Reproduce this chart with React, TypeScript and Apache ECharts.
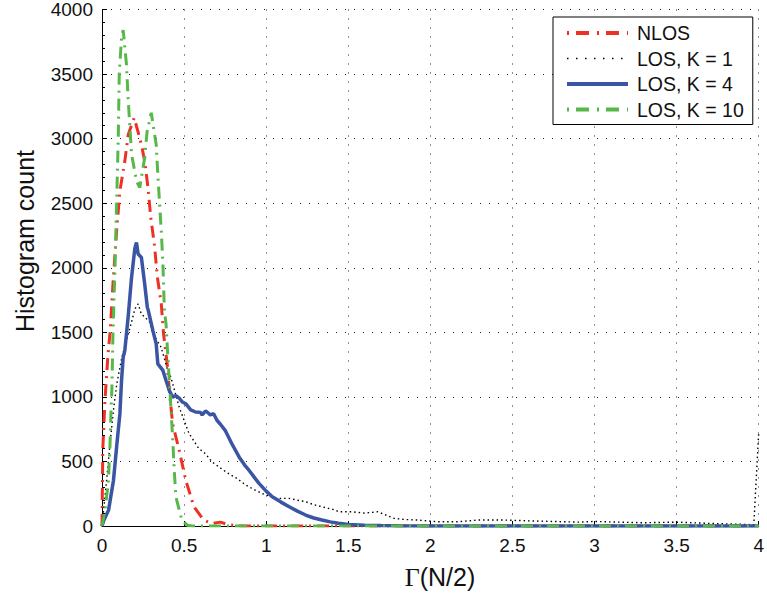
import React, { useEffect, useRef } from 'react';
import * as echarts from 'echarts';

// ---- Data ----
const xTicks = [0, 0.5, 1, 1.5, 2, 2.5, 3, 3.5, 4];
const yTicks = [0, 500, 1000, 1500, 2000, 2500, 3000, 3500, 4000];

const nlosX = [0, 0.005, 0.018, 0.035, 0.05, 0.068, 0.09, 0.109, 0.139, 0.16, 0.196, 0.22, 0.24, 0.26, 0.28, 0.297, 0.32, 0.337, 0.361, 0.375, 0.397, 0.41, 0.43, 0.47, 0.51, 0.56, 0.62, 0.67, 0.72, 0.77, 0.8, 0.85, 4];
const nlosY = [0, 600, 973, 1300, 1513, 1900, 2300, 2595, 2826, 3032, 3161, 3050, 2955, 2826, 2620, 2388, 2170, 1930, 1720, 1488, 1256, 1050, 793, 587, 355, 149, 46, 20, 30, 10, 5, 0, 0];

const k1X = [0, 0.02, 0.035, 0.05, 0.07, 0.09, 0.12, 0.15, 0.18, 0.2, 0.22, 0.24, 0.26, 0.29, 0.31, 0.36, 0.4, 0.42, 0.47, 0.53, 0.59, 0.63, 0.67, 0.72, 0.77, 0.82, 0.876, 0.93, 0.976, 1.06, 1.14, 1.19, 1.24, 1.29, 1.34, 1.42, 1.44, 1.52, 1.6, 1.68, 1.78, 1.85, 1.92, 2.05, 2.17, 2.29, 2.45, 2.6, 2.75, 2.9, 3.0, 3.15, 3.3, 3.5, 3.7, 3.85, 3.97, 4];
const k1Y = [0, 250, 450, 650, 900, 1100, 1300, 1440, 1580, 1680, 1720, 1640, 1620, 1578, 1488, 1385, 1205, 1150, 921, 716, 600, 560, 497, 450, 407, 370, 317, 280, 252, 214, 214, 200, 188, 165, 149, 124, 110, 110, 100, 110, 59, 50, 46, 33, 33, 46, 46, 40, 35, 30, 35, 30, 25, 30, 20, 15, 10, 720];

const k4X = [0, 0.01, 0.04, 0.07, 0.089, 0.109, 0.119, 0.129, 0.139, 0.159, 0.18, 0.2, 0.21, 0.22, 0.24, 0.26, 0.276, 0.28, 0.31, 0.33, 0.34, 0.371, 0.39, 0.41, 0.43, 0.45, 0.47, 0.49, 0.51, 0.54, 0.57, 0.6, 0.61, 0.63, 0.64, 0.66, 0.68, 0.7, 0.72, 0.75, 0.79, 0.835, 0.87, 0.895, 0.956, 1.0, 1.037, 1.09, 1.14, 1.19, 1.24, 1.29, 1.34, 1.39, 1.44, 1.5, 1.6, 1.7, 1.8, 2, 4];
const k4Y = [0, 40, 123, 355, 612, 870, 1127, 1307, 1359, 1616, 1925, 2150, 2195, 2106, 2080, 1874, 1694, 1680, 1513, 1411, 1256, 1205, 1127, 1050, 998, 1010, 990, 960, 947, 900, 883, 880, 860, 890, 883, 860, 870, 819, 790, 741, 639, 535, 470, 432, 330, 270, 226, 185, 149, 115, 85, 62, 46, 32, 21, 12, 6, 3, 1, 0, 0];

const k10X = [0, 0.018, 0.038, 0.048, 0.055, 0.06, 0.067, 0.079, 0.089, 0.099, 0.105, 0.12, 0.129, 0.149, 0.159, 0.18, 0.21, 0.23, 0.26, 0.275, 0.3, 0.33, 0.34, 0.351, 0.361, 0.371, 0.38, 0.39, 0.4, 0.41, 0.43, 0.44, 0.45, 0.486, 0.52, 0.55, 4];
const k10Y = [0, 124, 330, 600, 900, 1050, 1500, 2000, 2500, 3000, 3500, 3800, 3840, 3575, 3315, 2880, 2672, 2620, 2852, 3058, 3200, 2955, 2723, 2492, 2286, 2029, 1668, 1565, 1333, 1127, 690, 432, 226, 46, 5, 0, 0];

const seriesNames = ['NLOS', 'LOS, K = 1', 'LOS, K = 4', 'LOS, K = 10'];

const zip = (xs: number[], ys: number[]) => xs.map((x, i) => [x, ys[i]]);

export default function App() {
  const ref = useRef<HTMLDivElement>(null);
  useEffect(() => {
    const chart = echarts.init(ref.current!, null, { renderer: 'svg' });
    const font = '"Liberation Sans", Arial, Helvetica, sans-serif';
    const grid = { left: 102, right: 4, top: 8, bottom: 68 };
    const styles = [
      { color: '#ee3124', width: 3, type: [12, 6, 2, 6] },
      { color: '#000', width: 1.4, type: [1.5, 3] },
      { color: '#3a55a4', width: 3.5, type: 'solid' },
      { color: '#55b848', width: 3, type: [12, 6, 2, 6] },
    ];
    const legendStyles = [
      { color: '#ee3124', width: 4, type: [2, 7, 13, 8] },
      { color: '#000', width: 1.5, type: [1.5, 7.5] },
      { color: '#3a55a4', width: 4, type: 'solid' },
      { color: '#55b848', width: 4, type: [2, 7, 13, 8] },
    ];
    const datasets = [zip(nlosX, nlosY), zip(k1X, k1Y), zip(k4X, k4Y), zip(k10X, k10Y)];
    chart.setOption({
      animation: false,
      backgroundColor: '#fff',
      grid,
      xAxis: {
        type: 'value',
        min: xTicks[0],
        max: xTicks[xTicks.length - 1],
        interval: 0.5,
        axisLine: { show: true, onZero: false, lineStyle: { color: '#000', width: 1 } },
        axisTick: { show: true, inside: true, length: 5, lineStyle: { color: '#000' } },
        axisLabel: { color: '#111', fontSize: 19, fontFamily: font, margin: 10, formatter: (v: number) => String(v) },
        splitLine: { show: true, lineStyle: { color: '#222', width: 1, type: [1, 8] } },
      },
      yAxis: {
        type: 'value',
        min: yTicks[0],
        max: yTicks[yTicks.length - 1],
        interval: 500,
        axisLine: { show: true, lineStyle: { color: '#000', width: 1 } },
        axisTick: { show: true, inside: true, length: 5, lineStyle: { color: '#000' } },
        minorTick: { show: true, splitNumber: 5, length: 3, lineStyle: { color: '#000' } },
        axisLabel: { color: '#111', fontSize: 19, fontFamily: font, margin: 9, formatter: (v: number) => String(v) },
        splitLine: { show: true, lineStyle: { color: '#222', width: 1, type: [1, 8] } },
      },
      legend: {
        orient: 'vertical',
        left: 553,
        top: 17,
        padding: [6, 9, 5, 12],
        itemWidth: 61,
        itemHeight: 14,
        itemGap: 5.5,
        backgroundColor: '#fff',
        borderColor: '#000',
        borderWidth: 1,
        borderRadius: 0,
        itemStyle: { opacity: 0 },
        textStyle: { fontSize: 19.5, fontFamily: font, color: '#111', lineHeight: 20, padding: [0, 0, 0, 4] },
        data: seriesNames.map((name, i) => ({ name, lineStyle: legendStyles[i], itemStyle: { opacity: 0 } })),
      },
      series: seriesNames.map((name, i) => ({
        name, type: 'line', symbol: 'none', data: datasets[i],
        lineStyle: styles[i], itemStyle: { color: styles[i].color },
      })),
      graphic: [
        {
          type: 'text',
          x: 25, y: 241, rotation: Math.PI / 2,
          style: { text: 'Histogram count', fontSize: 25, fontFamily: font, fill: '#111', align: 'center', verticalAlign: 'middle' },
        },
        {
          type: 'text',
          x: 440, y: 577,
          style: {
            text: '{g|Γ}{s|(N/2)}', align: 'center', verticalAlign: 'middle', fill: '#111',
            rich: {
              g: { fontSize: 26, fontFamily: '"Liberation Serif", "Times New Roman", serif', fill: '#111' },
              s: { fontSize: 25, fontFamily: font, fill: '#111' },
            },
          },
        },
      ],
    });
    return () => chart.dispose();
  }, []);
  return <div ref={ref} style={{ position: 'absolute', left: 0, top: 0, width: 767, height: 594 }} />;
}
